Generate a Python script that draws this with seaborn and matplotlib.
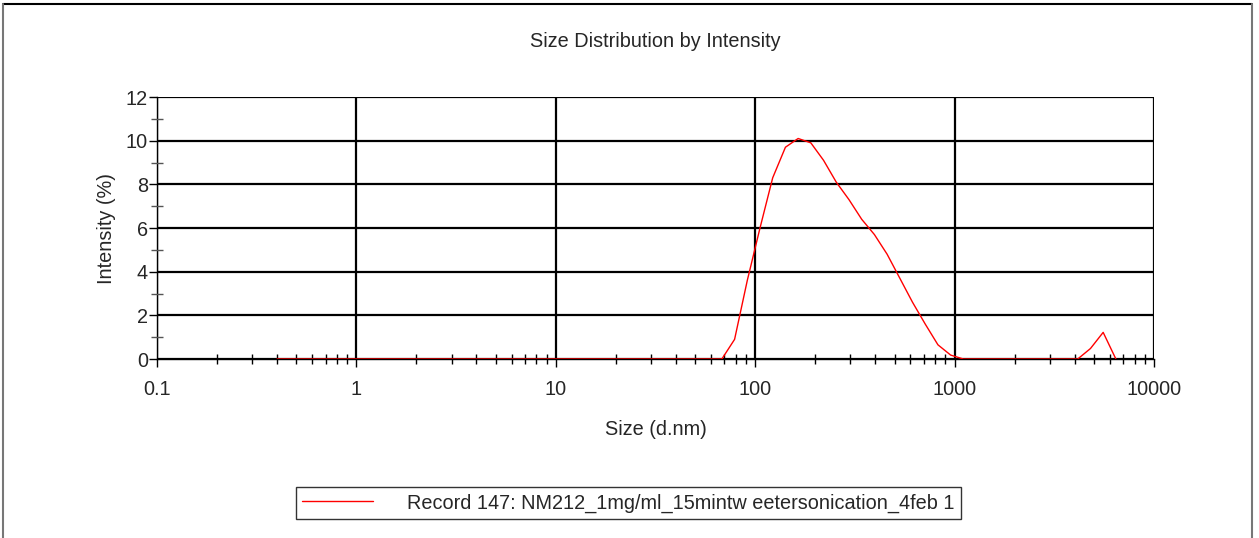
import matplotlib
matplotlib.use("Agg")
import matplotlib.pyplot as plt
import seaborn as sns
import pandas as pd
from matplotlib.lines import Line2D
from matplotlib.ticker import LogLocator, FixedLocator, NullFormatter, FuncFormatter

sizes_nm = [0.4, 0.4632, 0.5365, 0.6213, 0.7195, 0.8332, 0.9649, 1.117, 1.294, 1.499,
            1.736, 2.01, 2.328, 2.696, 3.122, 3.615, 4.187, 4.849, 5.615, 6.503,
            7.531, 8.721, 10.1, 11.7, 13.54, 15.69, 18.17, 21.04, 24.36, 28.21,
            32.67, 37.84, 43.82, 50.75, 58.77, 68.06, 78.82, 91.28, 105.7, 122.4,
            141.8, 164.2, 190.1, 220.2, 255.0, 295.3, 342.0, 396.1, 458.7, 531.2,
            615.1, 712.4, 825.0, 955.4, 1106, 1281, 1484, 1718, 1990, 2305,
            2669, 3091, 3580, 4145, 4801, 5560, 6439]
intensity_pct = [0, 0, 0, 0, 0, 0, 0, 0, 0, 0,
                 0, 0, 0, 0, 0, 0, 0, 0, 0, 0,
                 0, 0, 0, 0, 0, 0, 0, 0, 0, 0,
                 0, 0, 0, 0, 0, 0, 0.9, 3.6, 6.0, 8.3,
                 9.7, 10.1, 9.9, 9.1, 8.1, 7.3, 6.4, 5.7, 4.8, 3.7,
                 2.6, 1.6, 0.65, 0.18, 0, 0, 0, 0, 0, 0,
                 0, 0, 0, 0, 0.48, 1.22, 0]
series_label = "Record 147: NM212_1mg/ml_15mintw eetersonication_4feb 1"
x_ticks = [0.1, 1, 10, 100, 1000, 10000]
x_tick_labels = ["0.1", "1", "10", "100", "1000", "10000"]
y_ticks = [0, 2, 4, 6, 8, 10, 12]

df = pd.DataFrame({"Size": sizes_nm, "Intensity": intensity_pct})

sns.set_style("white")
plt.rcParams["font.family"] = ["Liberation Sans", "DejaVu Sans"]
FS = 14.3

fig = plt.figure(figsize=(12.59, 5.38), dpi=100)
ax = fig.add_axes([0.1247, 0.3327, 0.9166 - 0.1247, 0.8197 - 0.3327])

sns.lineplot(data=df, x="Size", y="Intensity", ax=ax, color="#ff0000",
             linewidth=1.0, label=series_label, zorder=5)

ax.set_xscale("log")
ax.set_xlim(0.1, 10000)
ax.set_ylim(0, 12)

ax.xaxis.set_major_locator(FixedLocator(x_ticks))
ax.xaxis.set_major_formatter(FuncFormatter(lambda v, p: x_tick_labels[x_ticks.index(v)] if v in x_ticks else ""))
ax.xaxis.set_minor_locator(LogLocator(base=10, subs=range(2, 10), numticks=20))
ax.xaxis.set_minor_formatter(NullFormatter())
ax.yaxis.set_major_locator(FixedLocator(y_ticks))
ax.yaxis.set_minor_locator(FixedLocator([1, 3, 5, 7, 9, 11]))

ax.grid(True, which="major", color="black", linewidth=1.6)
ax.set_axisbelow(False)

for s in ["top", "right"]:
    ax.spines[s].set_visible(False)
ax.spines["left"].set_color("black")
ax.spines["bottom"].set_color("black")
ax.spines["left"].set_linewidth(1.0)
ax.spines["bottom"].set_linewidth(1.0)

ax.tick_params(axis="both", which="both", bottom=True, left=True, top=False, right=False)
ax.tick_params(axis="both", which="major", direction="out", length=6, width=1,
               color="black", labelsize=FS)
ax.tick_params(axis="y", which="major", pad=0.5)
ax.tick_params(axis="x", which="major", pad=9)
ax.tick_params(axis="x", which="minor", direction="inout", length=7, width=1, color="black")
ax.tick_params(axis="y", which="minor", direction="inout", length=8, width=1, color="#555555")

ax.set_xlabel("Size (d.nm)", fontsize=FS, labelpad=15)
ax.set_ylabel("Intensity (%)", fontsize=FS, labelpad=7)
ax.set_title("Size Distribution by Intensity", fontsize=FS, pad=36)

ax.get_legend().remove()
handles, labels = ax.get_legend_handles_labels()
leg = fig.legend(handles, labels, loc="center", bbox_to_anchor=(0.499, 0.065),
                 frameon=True, fancybox=False, shadow=False, fontsize=FS,
                 handlelength=3.6, handletextpad=1.7, borderpad=0.3, borderaxespad=0)
leg.get_frame().set_edgecolor("black")
leg.get_frame().set_linewidth(1.0)

# outer border (top, left, right)
fig.add_artist(Line2D([3 / 1259, 1252 / 1259], [1 - 4 / 538, 1 - 4 / 538],
                      transform=fig.transFigure, color="black", linewidth=1.5))
fig.add_artist(Line2D([3 / 1259, 3 / 1259], [0, 1 - 4 / 538],
                      transform=fig.transFigure, color="#777777", linewidth=1.5))
fig.add_artist(Line2D([1252 / 1259, 1252 / 1259], [0, 1 - 4 / 538],
                      transform=fig.transFigure, color="#777777", linewidth=1.5))

fig.savefig("out.png", dpi=100)
